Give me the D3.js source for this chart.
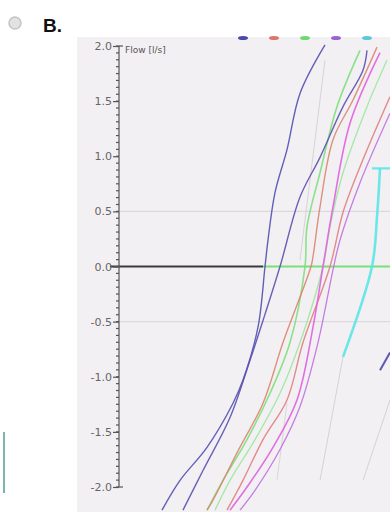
<!DOCTYPE html>
<html>
<head>
<meta charset="utf-8">
<script src="https://cdn.jsdelivr.net/npm/d3@7"></script>
<style>
  body { margin: 0; background: #fff; }
  svg { display: block; font-family: 'DejaVu Sans', Arial, sans-serif; }
</style>
</head>
<body>
<div id="chart"></div>
<script>
// y axis ticks (flow, l/s)
const flowTicks = [2.0, 1.5, 1.0, 0.5, 0.0, -0.5, -1.0, -1.5, -2.0]
const gridFlows = [0.5, -0.5]

// legend swatches along the top edge
const legendColors = ['#4a4aa8', '#d9786a', '#6fd86f', '#9a62cc', '#5cc8d8']

// loops: [volume, flow]
const blueA = [[2.06, 2.01], [1.81, 1.57], [1.68, 1.06], [1.56, 0.67], [1.49, 0.24], [1.46, 0], [1.39, -0.55], [1.24, -1.03], [1.14, -1.24], [0.88, -1.64], [0.61, -1.94], [0.43, -2.21]]
const blueB = [[2.48, 1.96], [2.44, 1.78], [2.24, 1.45], [2.01, 0.99], [1.81, 0.63], [1.61, 0], [1.44, -0.49], [1.31, -0.85], [1.11, -1.37], [0.84, -1.85], [0.64, -2.21]]
const greenA = [[2.41, 1.96], [2.18, 1.45], [2.01, 0.85], [1.88, 0.36], [1.86, 0], [1.71, -0.69], [1.51, -1.15], [1.28, -1.57], [1.04, -1.94], [0.88, -2.21]]
const greenB = [[2.68, 1.87], [2.48, 1.45], [2.24, 0.85], [2.11, 0.36], [2.04, 0], [1.81, -0.69], [1.61, -1.15], [1.36, -1.57], [1.11, -1.94], [0.96, -2.21]]
const salmonA = [[2.58, 1.99], [2.34, 1.51], [2.14, 1.15], [2.01, 0.54], [1.94, 0.09], [1.92, 0], [1.64, -0.69], [1.44, -1.24], [1.18, -1.69], [0.94, -2.12], [0.88, -2.21]]
const salmonB = [[2.71, 1.54], [2.44, 0.97], [2.24, 0.49], [2.11, 0], [1.84, -0.69], [1.68, -1.21], [1.44, -1.57], [1.24, -1.94], [1.08, -2.21]]
const pinkA = [[2.61, 1.94], [2.31, 1.30], [2.14, 0.54], [2.04, 0], [1.94, -0.55], [1.78, -1.21], [1.54, -1.64], [1.28, -2.0], [1.11, -2.21]]
const violetA = [[2.71, 1.39], [2.41, 0.76], [2.21, 0.24], [2.14, -0.03], [1.99, -0.69], [1.81, -1.27], [1.61, -1.66], [1.36, -2.03], [1.21, -2.21]]
const cyanCap = [[2.53, 0.89], [2.71, 0.89]]
const cyanA = [[2.61, 0.89], [2.58, 0.45], [2.53, 0], [2.24, -0.82]]
const blueTail = [[2.61, -0.94], [2.71, -0.78]]
const greyA = [[2.24, -0.82], [2.01, -1.94]]
const greyB = [[2.71, -1.21], [2.44, -1.94]]
const greyC = [[1.68, -1.24], [1.58, -1.94]]
const greyD = [[2.06, 1.87], [1.81, 0.06]]

const width = 390
const height = 512

const svg = d3.select('#chart').append('svg')
  .attr('width', width)
  .attr('height', height)

// volume is not labelled in the picture, the scale only places the loops
const xScale = d3.scaleLinear().domain([0, 2.7]).range([119, 389])
const yScale = d3.scaleLinear().domain([-2, 2]).range([487, 46])

// radio button + option letter
svg.append('circle')
  .attr('cx', 15).attr('cy', 23).attr('r', 6)
  .attr('fill', '#e2e2e2')
  .attr('stroke', '#c4c4c4')
  .attr('stroke-width', 1.5)
svg.append('text')
  .attr('x', 43).attr('y', 32)
  .attr('font-size', 19)
  .attr('font-weight', 'bold')
  .attr('font-family', 'Liberation Sans, Arial, sans-serif')
  .attr('fill', '#111')
  .text('B.')

svg.append('line')
  .attr('x1', 4).attr('x2', 4)
  .attr('y1', 432).attr('y2', 493)
  .attr('stroke', '#7fb2b2')
  .attr('stroke-width', 2)

// plot panel
svg.append('rect')
  .attr('x', 77).attr('y', 37)
  .attr('width', width - 77).attr('height', height - 37)
  .attr('fill', '#f3f0f4')

svg.append('defs').append('clipPath').attr('id', 'plotClip')
  .append('rect')
  .attr('x', 120).attr('y', 40)
  .attr('width', width - 120).attr('height', height - 40)

svg.append('g')
  .selectAll('line')
  .data(gridFlows)
  .join('line')
  .attr('x1', 120).attr('x2', width)
  .attr('y1', d => yScale(d)).attr('y2', d => yScale(d))
  .attr('stroke', '#dcd9dc')
  .attr('stroke-width', 1.2)

// zero line: dark up to the first loop, green after
svg.append('line')
  .attr('x1', 110).attr('x2', 263)
  .attr('y1', yScale(0)).attr('y2', yScale(0))
  .attr('stroke', '#3a3a3a')
  .attr('stroke-width', 2)
svg.append('line')
  .attr('x1', 263).attr('x2', width)
  .attr('y1', yScale(0)).attr('y2', yScale(0))
  .attr('stroke', '#78e078')
  .attr('stroke-width', 2)

// y axis with fine minor ticks
const axis = svg.append('g').attr('transform', 'translate(119,0)')
axis.append('line')
  .attr('y1', yScale(2)).attr('y2', yScale(-2))
  .attr('stroke', '#555').attr('stroke-width', 1.2)
const minorTicks = d3.range(-2, 2.0001, 0.0625)
axis.selectAll('line.minor')
  .data(minorTicks)
  .join('line')
  .attr('class', 'minor')
  .attr('x1', -3).attr('x2', 0)
  .attr('y1', d => yScale(d)).attr('y2', d => yScale(d))
  .attr('stroke', '#555').attr('stroke-width', 1.2)
axis.call(
  d3.axisLeft(yScale).tickValues(flowTicks).tickSize(6).tickSizeOuter(0)
    .tickFormat(d => d.toFixed(1)),
)
  .call(g => {
    g.select('.domain').remove()
    g.selectAll('.tick line').attr('stroke', '#555').attr('stroke-width', 1.2)
    g.selectAll('.tick text')
      .attr('fill', '#666')
      .attr('font-size', 11)
      .attr('x', -7)
      .attr('font-family', 'DejaVu Sans, sans-serif')
  })
// small caps on the axis ends
axis.selectAll('line.cap')
  .data([2, -2])
  .join('line')
  .attr('class', 'cap')
  .attr('x1', 0).attr('x2', 4)
  .attr('y1', d => yScale(d)).attr('y2', d => yScale(d))
  .attr('stroke', '#555').attr('stroke-width', 1.2)

svg.append('text')
  .attr('x', 125).attr('y', 53)
  .attr('font-size', 9)
  .attr('fill', '#555')
  .text('Flow [l/s]')

// legend swatches
svg.append('g')
  .selectAll('ellipse')
  .data(legendColors)
  .join('ellipse')
  .attr('cx', (d, i) => 243 + i * 31)
  .attr('cy', 38)
  .attr('rx', 5).attr('ry', 2)
  .attr('fill', d => d)

const line = d3.line()
  .x(d => xScale(d[0]))
  .y(d => yScale(d[1]))
  .curve(d3.curveCatmullRom)

const loops = [
  { pts: greyD, color: '#d2cfd4', w: 1 },
  { pts: greyA, color: '#d0ced2', w: 1 },
  { pts: greyB, color: '#d0ced2', w: 1 },
  { pts: greyC, color: '#d6d3d8', w: 1 },
  { pts: greenA, color: '#7ce07c', w: 1.6 },
  { pts: greenB, color: '#9ae89a', w: 1.3 },
  { pts: salmonA, color: '#d9866e', w: 1.4 },
  { pts: salmonB, color: '#e0807e', w: 1.4 },
  { pts: violetA, color: '#c070e0', w: 1.3 },
  { pts: pinkA, color: '#e060e0', w: 1.6 },
  { pts: blueA, color: '#5050b0', w: 1.4 },
  { pts: blueB, color: '#5a50b0', w: 1.4 },
  { pts: blueTail, color: '#4a4aa8', w: 2 },
  { pts: cyanA, color: '#5ce6e6', w: 2.6 },
  { pts: cyanCap, color: '#5ce6e6', w: 2.2 },
]

svg.append('g')
  .attr('clip-path', 'url(#plotClip)')
  .selectAll('path')
  .data(loops)
  .join('path')
  .attr('d', d => line(d.pts))
  .attr('fill', 'none')
  .attr('stroke', d => d.color)
  .attr('stroke-width', d => d.w)
  .attr('stroke-opacity', 0.9)
</script>
</body>
</html>
